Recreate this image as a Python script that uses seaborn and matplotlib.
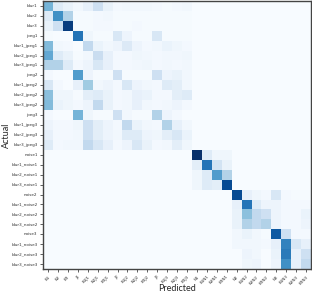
import numpy as np
import pandas as pd
import matplotlib
matplotlib.use("Agg")
import matplotlib.pyplot as plt
import seaborn as sns

# labels
actual = ["blur1", "blur2", "blur3",
          "jpeg1", "blur1_jpeg1", "blur2_jpeg1", "blur3_jpeg1",
          "jpeg2", "blur1_jpeg2", "blur2_jpeg2", "blur3_jpeg2",
          "jpeg3", "blur1_jpeg3", "blur2_jpeg3", "blur3_jpeg3",
          "noise1", "blur1_noise1", "blur2_noise1", "blur3_noise1",
          "noise2", "blur1_noise2", "blur2_noise2", "blur3_noise2",
          "noise3", "blur1_noise3", "blur2_noise3", "blur3_noise3"]
predicted = ["B1", "B2", "B3",
             "J1", "B1J1", "B2J1", "B3J1",
             "J2", "B1J2", "B2J2", "B3J2",
             "J3", "B1J3", "B2J3", "B3J3",
             "N1", "B1N1", "B2N1", "B3N1",
             "N2", "B1N2", "B2N2", "B3N2",
             "N3", "B1N3", "B2N3", "B3N3"]

# blur / jpeg block (rows 0-14, cols 0-14)
blur_jpeg = [
    [0.45, 0.12, 0.07, 0.03, 0.08, 0.20, 0.07, 0.02, 0.03, 0.03, 0.03, 0.02, 0.01, 0.02, 0.03],
    [0.12, 0.60, 0.30, 0.01, 0.01, 0.02, 0.03, 0.01, 0.01, 0.01, 0.01, 0.01, 0.01, 0.01, 0.01],
    [0.07, 0.20, 0.90, 0.01, 0.01, 0.02, 0.02, 0.01, 0.01, 0.02, 0.01, 0.01, 0.01, 0.01, 0.01],
    [0.01, 0.00, 0.00, 0.70, 0.04, 0.01, 0.01, 0.15, 0.05, 0.01, 0.01, 0.15, 0.01, 0.01, 0.01],
    [0.42, 0.03, 0.02, 0.00, 0.25, 0.06, 0.03, 0.05, 0.13, 0.05, 0.02, 0.03, 0.06, 0.04, 0.02],
    [0.50, 0.12, 0.07, 0.01, 0.03, 0.22, 0.08, 0.02, 0.02, 0.04, 0.03, 0.02, 0.03, 0.03, 0.04],
    [0.30, 0.30, 0.12, 0.02, 0.05, 0.15, 0.08, 0.02, 0.02, 0.03, 0.04, 0.02, 0.03, 0.02, 0.03],
    [0.02, 0.00, 0.00, 0.55, 0.05, 0.01, 0.01, 0.20, 0.01, 0.01, 0.01, 0.20, 0.05, 0.07, 0.03],
    [0.15, 0.02, 0.00, 0.08, 0.35, 0.03, 0.05, 0.02, 0.15, 0.05, 0.03, 0.02, 0.12, 0.10, 0.03],
    [0.40, 0.04, 0.04, 0.01, 0.10, 0.12, 0.07, 0.02, 0.03, 0.08, 0.06, 0.02, 0.02, 0.10, 0.12],
    [0.42, 0.06, 0.04, 0.02, 0.05, 0.25, 0.07, 0.02, 0.03, 0.08, 0.03, 0.02, 0.03, 0.05, 0.02],
    [0.02, 0.00, 0.00, 0.45, 0.04, 0.01, 0.01, 0.20, 0.03, 0.01, 0.01, 0.30, 0.05, 0.02, 0.00],
    [0.05, 0.02, 0.02, 0.04, 0.20, 0.10, 0.05, 0.02, 0.25, 0.06, 0.03, 0.02, 0.30, 0.08, 0.03],
    [0.08, 0.02, 0.02, 0.03, 0.20, 0.10, 0.05, 0.03, 0.12, 0.12, 0.05, 0.04, 0.10, 0.15, 0.06],
    [0.12, 0.02, 0.03, 0.03, 0.25, 0.15, 0.08, 0.02, 0.05, 0.15, 0.07, 0.02, 0.03, 0.10, 0.04],
]

# noise block (rows 15-26, cols 15-26)
noise = [
    [0.95, 0.12, 0.04, 0.04, 0.00, 0.00, 0.00, 0.00, 0.00, 0.00, 0.00, 0.00],
    [0.10, 0.70, 0.18, 0.07, 0.00, 0.00, 0.00, 0.00, 0.00, 0.00, 0.00, 0.00],
    [0.04, 0.12, 0.55, 0.30, 0.00, 0.00, 0.00, 0.00, 0.00, 0.00, 0.00, 0.00],
    [0.04, 0.12, 0.10, 0.85, 0.00, 0.00, 0.00, 0.00, 0.00, 0.00, 0.00, 0.00],
    [0.00, 0.00, 0.00, 0.00, 0.85, 0.08, 0.04, 0.02, 0.15, 0.02, 0.01, 0.01],
    [0.00, 0.00, 0.00, 0.00, 0.08, 0.70, 0.12, 0.05, 0.05, 0.02, 0.02, 0.02],
    [0.00, 0.00, 0.00, 0.00, 0.07, 0.40, 0.25, 0.20, 0.05, 0.02, 0.02, 0.06],
    [0.00, 0.00, 0.00, 0.00, 0.07, 0.30, 0.25, 0.30, 0.05, 0.02, 0.02, 0.05],
    [0.00, 0.00, 0.00, 0.00, 0.03, 0.06, 0.03, 0.01, 0.80, 0.20, 0.02, 0.02],
    [0.00, 0.00, 0.00, 0.00, 0.03, 0.03, 0.03, 0.02, 0.08, 0.65, 0.15, 0.08],
    [0.00, 0.00, 0.00, 0.00, 0.00, 0.05, 0.03, 0.00, 0.06, 0.68, 0.08, 0.20],
    [0.00, 0.00, 0.00, 0.00, 0.00, 0.04, 0.05, 0.00, 0.05, 0.60, 0.08, 0.25],
]

n = len(actual)
cm = np.zeros((n, n))
cm[:15, :15] = blur_jpeg
cm[15:, 15:] = noise
df = pd.DataFrame(cm, index=actual, columns=predicted)

sns.set_style("ticks")
fig = plt.figure(figsize=(3.12, 2.95), dpi=100)
ax = fig.add_axes([0.138, 0.088, 0.859, 0.909])

sns.heatmap(df, cmap="Blues", vmin=0, vmax=0.95, cbar=False, ax=ax,
            xticklabels=True, yticklabels=True)

for s in ax.spines.values():
    s.set_visible(True)
    s.set_color("#444444")
    s.set_linewidth(1.0)

ax.tick_params(axis="both", length=2.5, width=0.6, color="#444444", pad=1.5)
ax.set_yticklabels(actual, fontsize=3.0, rotation=0, color="#333333")
ax.set_xticklabels(predicted, fontsize=3.0, rotation=45, ha="right",
                   rotation_mode="anchor", color="#333333")
ax.set_xlabel("Predicted", fontsize=6.5, family="Lato", va="center")
ax.set_ylabel("Actual", fontsize=6.5, family="Lato", va="center")
ax.xaxis.set_label_coords(0.5, -0.072)
ax.yaxis.set_label_coords(-0.135, 0.5)

fig.savefig("out.png", dpi=100)
